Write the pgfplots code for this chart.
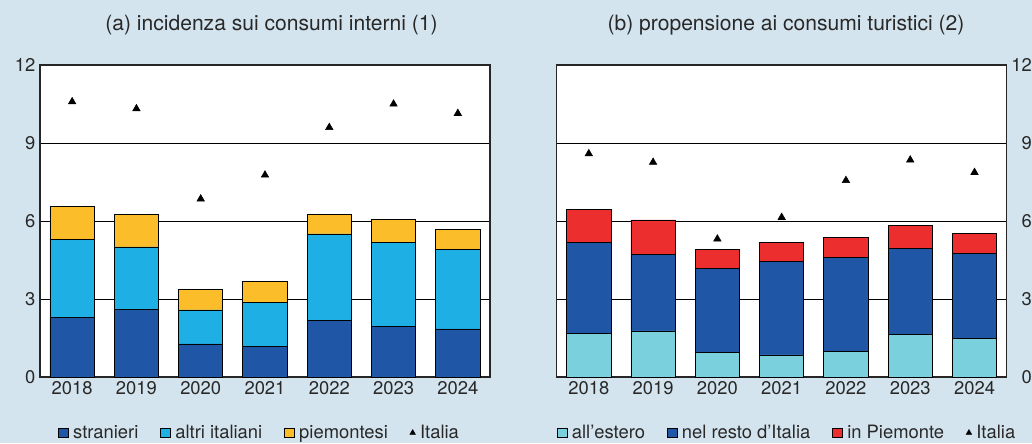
\documentclass[border=0pt]{standalone}
\usepackage{pgfplots}
\usepackage{pgfplotstable}
\pgfplotsset{compat=1.18}
\usepackage{fontspec}
\setmainfont{TeX Gyre Heros}
\definecolor{bg}{RGB}{212,228,238}
\definecolor{cStr}{RGB}{31,86,165}
\definecolor{cAlt}{RGB}{30,176,228}
\definecolor{cPie}{RGB}{252,189,42}
\definecolor{cEst}{RGB}{122,208,221}
\definecolor{cRed}{RGB}{237,46,46}
\definecolor{txt}{RGB}{40,40,40}
\newcommand{\fs}{\fontsize{13.8}{16}\selectfont}
\newcommand{\ft}{\fontsize{15.8}{18}\selectfont}

\pgfplotstableread{
x str alt pie ita
0 2.30 3.00 1.26 10.59
1 2.60 2.40 1.26 10.32
2 1.27 1.31 0.79 6.85
3 1.18 1.70 0.79 7.77
4 2.18 3.32 0.76 9.60
5 1.95 3.24 0.86 10.50
6 1.85 3.07 0.76 10.14
}\tabA

\pgfplotstableread{
x est res pie ita
0 1.68 3.49 1.28 8.59
1 1.77 2.96 1.31 8.26
2 0.95 3.23 0.74 5.31
3 0.85 3.59 0.74 6.14
4 1.00 3.60 0.77 7.56
5 1.65 3.30 0.87 8.35
6 1.47 3.29 0.77 7.87
}\tabB

\pgfplotsset{
  sq/.style={fill=#1, draw=black, line width=0.6pt,
    legend image code/.code={\draw[fill=#1,draw=black,line width=0.5pt] (0pt,-3.6pt) rectangle (7.2pt,3.6pt);}},
  base/.style={scale only axis, width=337.5pt, height=234pt,
    xmin=-0.5, xmax=6.5, ymin=0, ymax=12, enlargelimits=false,
    xtick={0,...,6}, xticklabels={2018,2019,2020,2021,2022,2023,2024},
    ytick={0,3,6,9,12}, major tick length=0pt,
    tick label style={font=\fs, text=txt},
    /pgf/number format/assume math mode=true,
    axis line style={draw=black!85, line width=0.9pt},
  },
  bars/.style={base, ybar stacked, bar width=0.69,
    ymajorgrids, grid style={black, line width=0.7pt},
    axis background/.style={fill=white},
    legend columns=4, legend cell align=left,
    legend style={draw=none, fill=none, font=\fs, text=txt, anchor=center,
      nodes={inner ysep=2pt, inner xsep=3.5pt},
      /tikz/every even column/.append style={column sep=13pt}},
  },
  marks/.style={base, hide axis},
  tri/.style={only marks, mark=triangle*, mark size=3.2pt, black},
}

\begin{document}
\begin{tikzpicture}
\useasboundingbox (0,0) rectangle (774pt,332.25pt);
\fill[bg] (0,0) rectangle (774pt,332.25pt);

\node[font=\ft, text=txt] at (203.6pt,313.5pt) {(a) incidenza sui consumi interni (1)};
\node[font=\ft, text=txt] at (589.5pt,313.5pt) {(b) propensione ai consumi turistici (2)};

% ---- panel (a)
\begin{axis}[bars, at={(30pt,49.5pt)}, anchor=south west,
  legend style={at={(0.491,-0.179)}}]
\addplot[sq=cStr] table[x=x,y=str]{\tabA};
\addlegendentry{stranieri}
\addplot[sq=cAlt] table[x=x,y=alt]{\tabA};
\addlegendentry{altri italiani}
\addplot[sq=cPie] table[x=x,y=pie]{\tabA};
\addlegendentry{piemontesi}
\addlegendimage{legend image code/.code={\draw[only marks, mark=triangle*, mark size=2.4pt, black] plot coordinates {(3.5pt,0pt)};}}
\addlegendentry{Italia}
\end{axis}
\begin{axis}[marks, at={(30pt,49.5pt)}, anchor=south west]
\addplot[tri] table[x=x,y=ita]{\tabA};
\end{axis}

% ---- panel (b)
\begin{axis}[bars, at={(417.5pt,49.5pt)}, anchor=south west,
  yticklabel pos=right, yticklabel style={anchor=east, xshift=22.5pt},
  legend style={at={(0.515,-0.179)}}]
\addplot[sq=cEst] table[x=x,y=est]{\tabB};
\addlegendentry{all'estero}
\addplot[sq=cStr] table[x=x,y=res]{\tabB};
\addlegendentry{nel resto d'Italia}
\addplot[sq=cRed] table[x=x,y=pie]{\tabB};
\addlegendentry{in Piemonte}
\addlegendimage{legend image code/.code={\draw[only marks, mark=triangle*, mark size=2.4pt, black] plot coordinates {(3.5pt,0pt)};}}
\addlegendentry{Italia}
\end{axis}
\begin{axis}[marks, at={(417.5pt,49.5pt)}, anchor=south west]
\addplot[tri] table[x=x,y=ita]{\tabB};
\end{axis}
\end{tikzpicture}
\end{document}
